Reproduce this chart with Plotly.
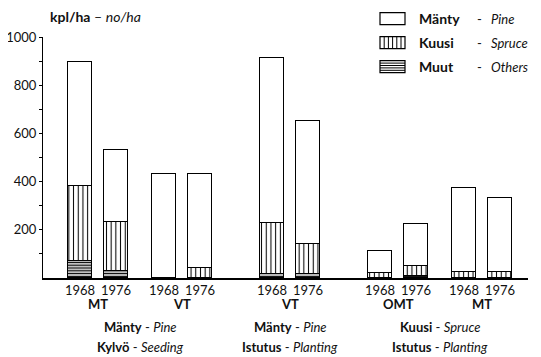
import plotly.graph_objects as go

# ---- data ----
years = ["1968", "1976", "1968", "1976", "1968", "1976", "1968", "1976", "1968", "1976"]
site_types = ["MT", "VT", "VT", "OMT", "MT"]
pine = [512, 299, 430, 388, 684, 513, 92, 176, 350, 310]
spruce = [311, 204, 0, 42, 214, 125, 21, 40, 23, 23]
others = [72, 28, 0, 0, 15, 15, 0, 8, 0, 0]
y_ticks = [200, 400, 600, 800, 1000]
y_minor = [100, 300, 500, 700, 900]
legend_fi = ["Mänty", "Kuusi", "Muut"]
legend_en = ["Pine", "Spruce", "Others"]
footer = [("Mänty", "Pine", "Kylvö", "Seeding"),
          ("Mänty", "Pine", "Istutus", "Planting"),
          ("Kuusi", "Spruce", "Istutus", "Planting")]

# ---- layout helpers ----
OFF = 8  # page body margin
W, H = 541 - OFF, 357 - OFF
L, R, T, B = 43 - OFF, 528 - OFF, 37.3 - OFF, 278.3 - OFF
group_start = [0, 7, 16, 25, 32]
pos = [g + k * 3 for g in group_start for k in range(2)]
FONT = "Lato"
INK = "#111"
UNIT = 12.0  # px per x unit

def pxx(p):
    return (p - OFF - L) / (R - L)

def pxy(p):
    return (B - (p - OFF)) / (B - T)

def dx(p):
    return (p - 80) / UNIT

fig = go.Figure()
line = dict(color="black", width=1.2)
fig.add_bar(x=pos, y=others, width=2, showlegend=False,
            marker=dict(color="white", line=line,
                        pattern=dict(shape="-", size=2.8, solidity=0.5, fgcolor="black", bgcolor="white")))
fig.add_bar(x=pos, y=spruce, width=2, showlegend=False,
            marker=dict(color="white", line=line,
                        pattern=dict(shape="|", size=4.7, solidity=0.22, fgcolor="black", bgcolor="white")))
fig.add_bar(x=pos, y=pine, width=2, showlegend=False,
            marker=dict(color="white", line=line))

ann = []
shapes = []
# title (unit label) placed above the y-axis line
ann.append(dict(x=pxx(95), y=pxy(17), xref="paper", yref="paper", xanchor="center", yanchor="middle",
                text="<b>kpl/ha</b> – <i>no/ha</i>", showarrow=False,
                font=dict(family=FONT, size=14, color=INK)))
# group labels
for i, s in enumerate(site_types):
    cx = (pos[2 * i] + pos[2 * i + 1]) / 2
    ann.append(dict(x=cx, y=pxy(304), xref="x", yref="paper", xanchor="center", yanchor="middle",
                    text="<b>" + s + "</b>", showarrow=False,
                    font=dict(family=FONT, size=13, color=INK)))
# footer labels
fcent = [(pos[0] + pos[3]) / 2, (pos[4] + pos[5]) / 2, (pos[6] + pos[9]) / 2]
for (a, b, c, d), cx in zip(footer, fcent):
    ann.append(dict(x=cx, y=pxy(327), xref="x", yref="paper", xanchor="center", yanchor="middle",
                    text="<b>" + a + "</b> - <i>" + b + "</i>", showarrow=False,
                    font=dict(family=FONT, size=13, color=INK)))
    ann.append(dict(x=cx, y=pxy(347), xref="x", yref="paper", xanchor="center", yanchor="middle",
                    text="<b>" + c + "</b> - <i>" + d + "</i>", showarrow=False,
                    font=dict(family=FONT, size=13, color=INK)))
# legend
rows = [19, 43, 67]
bx0, bx1 = 380, 405
for i, (fi, en) in enumerate(zip(legend_fi, legend_en)):
    yc = rows[i]
    y0, y1 = yc - 6, yc + 6
    shapes.append(dict(type="rect", xref="paper", yref="paper", x0=pxx(bx0), x1=pxx(bx1),
                       y0=pxy(y1), y1=pxy(y0), line=dict(color="black", width=1.2), fillcolor="white"))
    if i == 1:
        xx = bx0 + 4.2
        while xx < bx1 - 1:
            shapes.append(dict(type="line", xref="paper", yref="paper", x0=pxx(xx), x1=pxx(xx),
                               y0=pxy(y1), y1=pxy(y0), line=dict(color="black", width=1)))
            xx += 4.2
    if i == 2:
        yy = y0 + 2.4
        while yy < y1 - 0.5:
            shapes.append(dict(type="line", xref="paper", yref="paper", x0=pxx(bx0), x1=pxx(bx1),
                               y0=pxy(yy), y1=pxy(yy), line=dict(color="black", width=1)))
            yy += 2.4
    ann.append(dict(x=pxx(417), y=pxy(yc), xref="paper", yref="paper", xanchor="left", yanchor="middle",
                    text="<b>" + fi + "</b>", showarrow=False, font=dict(family=FONT, size=14, color=INK)))
    ann.append(dict(x=pxx(475), y=pxy(yc), xref="paper", yref="paper", xanchor="left", yanchor="middle",
                    text="-", showarrow=False, font=dict(family=FONT, size=13, color=INK)))
    ann.append(dict(x=pxx(489), y=pxy(yc), xref="paper", yref="paper", xanchor="left", yanchor="middle",
                    text="<i>" + en + "</i>", showarrow=False, font=dict(family=FONT, size=13, color=INK)))

fig.update_layout(
    template="none",
    width=W, height=H, barmode="stack", bargap=0,
    margin=dict(l=L, r=W - R, t=T, b=H - B, pad=0, autoexpand=False),
    paper_bgcolor="white", plot_bgcolor="white",
    annotations=ann, shapes=shapes, showlegend=False,
    xaxis=dict(range=[dx(43), dx(528)], tickvals=pos, ticktext=years, automargin=False,
               showgrid=False, zeroline=False, showline=True, linecolor="black", linewidth=1.5,
               ticks="", tickfont=dict(family=FONT, size=13, color=INK), fixedrange=True),
    yaxis=dict(range=[0, 1000], tickvals=y_ticks, ticktext=[str(v) for v in y_ticks], automargin=False,
               showgrid=False, zeroline=False, showline=True, linecolor="black", linewidth=1.2,
               ticks="outside", ticklen=3, tickcolor="black", tickwidth=1.2,
               minor=dict(tickvals=y_minor, ticks="outside", ticklen=3, tickcolor="black", tickwidth=1.2),
               tickfont=dict(family=FONT, size=13, color=INK), fixedrange=True),
)
fig.write_html("out.html")
